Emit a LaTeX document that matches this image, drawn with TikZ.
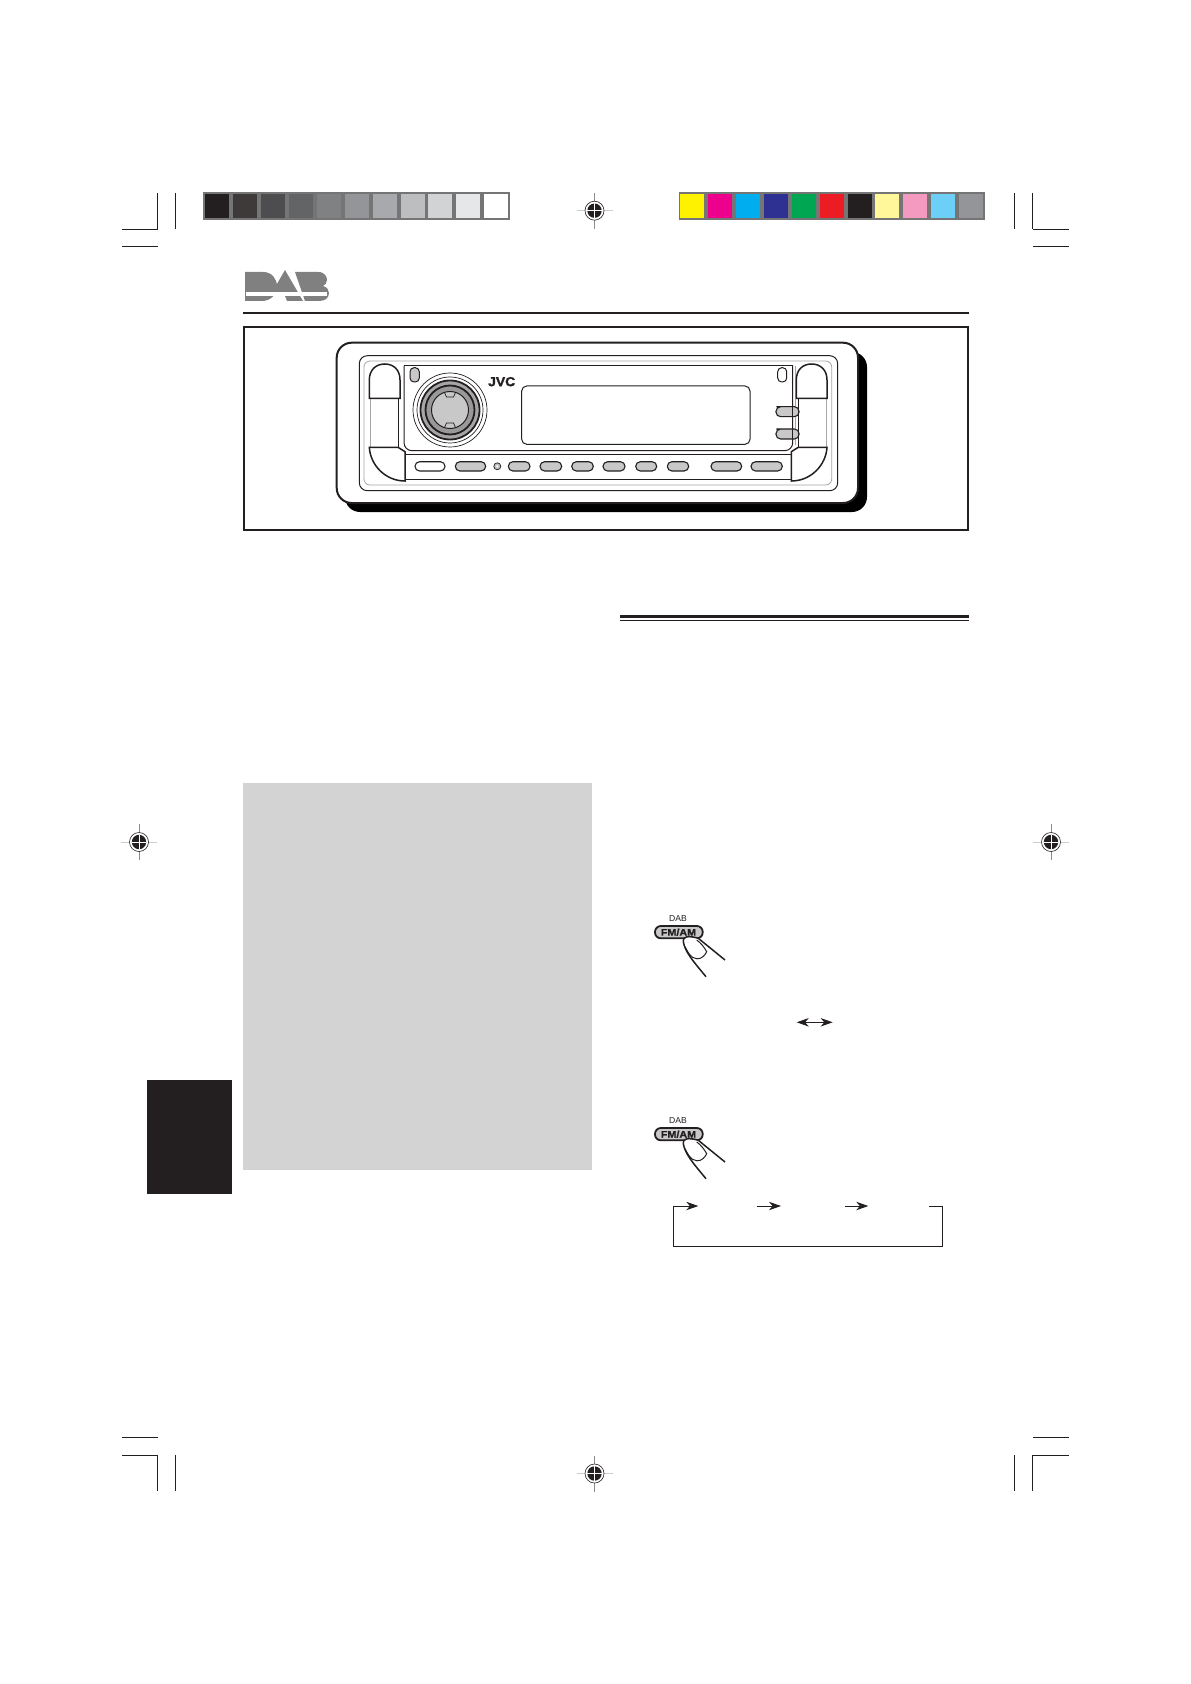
\documentclass[tikz,border=0pt]{standalone}
\usepackage{fontspec}
\setmainfont{Liberation Sans}
\usetikzlibrary{%
        arrows.meta
    }
\definecolor{ink}{HTML}{231F20}
\definecolor{slate}{HTML}{757575}
\definecolor{keygray}{HTML}{C8C8C8}
\definecolor{logogray}{HTML}{808080}
\definecolor{boxgray}{HTML}{D3D3D3}
\tikzset{%
    hair/.style={line width=0.5pt, draw=ink},
    heavy/.style={line width=0.75pt, draw=ink},
    thinline/.style={line width=0.35pt, draw=ink},
    softline/.style={line width=0.4pt, draw=gray!70},
    softkey/.style={line width=0.55pt, draw=ink, fill=keygray, rounded corners=2.3pt},
    bighead/.tip={Stealth[length=6pt, width=4.2pt, inset=1.8pt]},
    arrowline/.style={line width=0.5pt, draw=ink, -bighead},
    regmark/.pic={%
        code{%
            \draw[line width=0.35pt, gray!40] (-18, 0) -- (18, 0);
            \draw[line width=0.35pt, gray!90] (0, -18) -- (0, 18);
            \draw[line width=0.3pt, draw=ink, fill=white] (0, 0) circle[radius=9.5];
            \fill[ink] (0, 0) circle[radius=7.2];
            \draw[line width=0.35pt, white] (-7.2, 0) -- (7.2, 0);
            \draw[line width=0.35pt, white] (0, -7.2) -- (0, 7.2);
        };
    },
    endcap/.pic={%
        code{%
            \draw[softline] (1, 399) -- (1, 447);
            \draw[hair] (28.7, 399) -- (28.7, 447);
            \draw[heavy, fill=white] (0, 398.5) -- (0, 380)
                .. controls (0, 370) and (6.5, 364) .. (15.4, 364)
                .. controls (24.5, 364) and (30.7, 370) .. (30.7, 380)
                -- (30.7, 398.5) -- cycle;
            \draw[heavy, fill=white] (0, 447.3) -- (28.7, 447.3) -- (35.7, 451.7)
                -- (35.7, 481)
                .. controls (16, 481) and (1, 465) .. (0, 447.3) -- cycle;
        };
    },
    fmam/.pic={%
        code{%
            \node[font=\fontsize{4.3pt}{5pt}\selectfont, text=ink, inner sep=0] (#1-dab)
                at (-1, -13.5) {DAB};
            \draw[line width=0.9pt, draw=ink, fill=keygray, rounded corners=2.9pt]
                (-24, -6) rectangle (23.7, 6.3);
            \node[font=\fontsize{4.8pt}{6pt}\selectfont\bfseries\addfontfeature{FakeStretch=1.12, FakeBold=1.2},
                text=ink, inner sep=0] (#1-key) at (-0.5, 0.3) {FM/AM};
            \fill[white] (4.3, 9.7)
                .. controls (3, 5) and (9, 4) .. (19.3, 6.3)
                -- (46, 28) -- (27, 44.7) -- cycle;
            \draw[heavy] (19.3, 6.3) .. controls (9, 3) and (3, 5) .. (4.3, 9.7)
                .. controls (6, 20) and (14, 29) .. (27, 44.7);
            \draw[heavy] (19.3, 6.3) -- (46, 28);
            \draw[hair] (6, 14.7) .. controls (9, 20) and (11, 26) .. (18, 26.8)
                .. controls (23, 27) and (26, 23) .. (27.7, 19.7)
                .. controls (25, 15) and (22, 11) .. (17.7, 8);
        };
    }
}

\begin{document}
\begin{tikzpicture}[x=0.5pt, y=-0.5pt]

    \useasboundingbox (0, 0) rectangle (1190, 1684);

    %%%%%%%%%%%%
    % Colour bars
    \fill[slate] (203, 192) rectangle (510, 220);
    \foreach \x/\hex in {%
        205/231F20, 233/3E3A39, 261/4D4D4F, 289/636466, 317/808183, 344.5/939598,
        372.5/A7A9AC, 400.5/BCBEC0, 428/D1D3D4, 456/E6E7E8, 484/FFFFFF%
    }{%
        \definecolor{patch}{HTML}{\hex}
        \fill[patch] (\x, 194) rectangle ++(24, 24);
    };

    \fill[slate] (679, 192) rectangle (985, 220);
    \foreach \x/\hex in {%
        680/FFF200, 708/EC008C, 736/00AEEF, 764/2E3192, 792/00A651, 820/ED1C24,
        848/231F20, 875/FFF799, 903/F49AC1, 931/6DCFF6, 959/939598%
    }{%
        \definecolor{patch}{HTML}{\hex}
        \fill[patch] (\x, 194) rectangle ++(24, 24);
    };

    % Crop marks
    \foreach \xa/\xb/\xv/\xw in {122/158/157.7/175.5, 1033/1069/1032.5/1014}{%
        \draw[hair] (\xa, 229.5) -- (\xb, 229.5);
        \draw[hair] (\xa, 247) -- (\xb, 247);
        \draw[hair] (\xv, 193) -- (\xv, 229.5);
        \draw[hair] (\xw, 193) -- (\xw, 229.5);
        \draw[hair] (\xa, 1437) -- (\xb, 1437);
        \draw[hair] (\xa, 1455) -- (\xb, 1455);
        \draw[hair] (\xv, 1455) -- (\xv, 1491);
        \draw[hair] (\xw, 1455) -- (\xw, 1491);
    };

    % Registration marks
    \path (594.5, 210.7) pic {regmark};
    \path (139, 842) pic {regmark};
    \path (1051, 842) pic {regmark};
    \path (594.5, 1473.5) pic {regmark};

    %%%%%%%%%%%%
    % Logo
    \fill[logogray] (245, 272) -- (263, 272)
        .. controls (272, 272) and (277, 279) .. (277, 286.5)
        .. controls (277, 295) and (270, 301) .. (262, 301)
        -- (245, 301) -- cycle;
    \fill[logogray] (285, 270) -- (303, 301) -- (287, 301) -- (285, 296)
        -- (270, 296) -- cycle;
    \fill[logogray] (295, 272) -- (318, 272)
        .. controls (325, 272) and (327, 277) .. (327, 280)
        .. controls (327, 283) and (325, 285) .. (323, 286)
        .. controls (327, 287) and (329, 290) .. (329, 293)
        .. controls (329, 298) and (325, 301) .. (319, 301)
        -- (305, 301) -- cycle;
    \fill[white] (246, 292.3) rectangle (326.5, 296);

    \draw[line width=1pt, draw=ink] (243, 312.7) -- (969, 312.7);
    \draw[line width=1pt, draw=ink] (244, 327) rectangle (968, 530);

    %%%%%%%%%%%%
    % Car radio
    \fill[black, rounded corners=7.5pt] (345, 352) rectangle (867, 512);
    \draw[line width=1pt, draw=ink, fill=white, rounded corners=7.5pt]
        (336.7, 342.7) rectangle (858, 503);
    \draw[hair, rounded corners=4pt] (359.3, 355.7) rectangle (837.7, 490.7);
    \draw[softline, rounded corners=3pt] (364, 361) rectangle (831.7, 485);

    % Front panel
    \draw[hair, fill=white, rounded corners=4pt]
        (792.7, 366) -- (792.7, 450.7) -- (404, 450.7) -- (404, 366);
    \draw[hair] (404, 366) -- (792.7, 366);
    \draw[softline] (795, 366) -- (795, 445);
    \draw[hair, fill=white] (405, 454) rectangle (791.7, 479.3);
    \draw[hair, rounded corners=2.5pt] (521.7, 386) rectangle (750, 444.3);

    % Side keys
    \foreach \y in {411.7, 434}{%
        \draw[softkey] (799, \y - 5) -- (781, \y - 5) -- (776, \y - 5)
            -- (776, \y + 5) -- (799, \y + 5) -- cycle;
        \draw[thinline] (792.7, \y - 5) -- (792.7, \y + 5);
    };

    % End caps
    \path (369.3, 0) pic {endcap};
    \path (827, 0) pic[xscale=-1] {endcap};

    % Indicators
    \draw[hair, fill=keygray, rounded corners=2pt] (410, 367.7) rectangle (419.3, 382);
    \draw[hair, fill=white, rounded corners=2pt] (777.7, 367.7) rectangle (786.7, 382);

    % Dial
    \draw[thinline] (450, 410) circle[radius=37];
    \draw[thinline] (450, 410) circle[radius=33];
    \draw[line width=0.9pt, draw=ink, fill=gray!70] (450, 410) circle[radius=29.5];
    \draw[line width=0.9pt, draw=ink, fill=gray!80] (450, 410) circle[radius=24.5];
    \draw[hair, fill=keygray] (450, 410) circle[radius=18.5];
    \draw[thinline] (444.5, 392.5) -- (446.5, 397) -- (453.5, 397) -- (455.5, 392.5);
    \draw[thinline] (444.5, 427.5) -- (446.5, 423) -- (453.5, 423) -- (455.5, 427.5);
    \node[font=\fontsize{6.5pt}{8pt}\selectfont\bfseries\addfontfeature{FakeStretch=1.07, FakeBold=1.5},
        text=ink, inner sep=0] (jvc) at (501.7, 381.7) {JVC};

    % Lower keys
    \draw[softkey, fill=white] (415, 461.7) rectangle (445, 471);
    \foreach \xa/\xb in {%
        455.3/485.7, 508.3/530, 540/561.7, 571.7/593.3, 603/625, 635.7/656.7,
        667.3/688.7, 711/741.7, 751/782.3%
    }{%
        \draw[softkey] (\xa, 461.7) rectangle (\xb, 471);
    };
    \draw[thinline, fill=gray!50] (497.3, 466.3) circle[radius=3.5];
    \fill[white] (497.3, 466.3) circle[radius=1.2];

    %%%%%%%%%%%%
    % Text rule
    \draw[line width=1.6pt, draw=ink] (620, 616.8) -- (969, 616.8);
    \draw[line width=0.5pt, draw=ink] (620, 620.5) -- (969, 620.5);

    % Shaded blocks
    \fill[boxgray] (242.7, 783) rectangle (592, 1170);
    \fill[ink] (147, 1080) rectangle (232, 1194);

    %%%%%%%%%%%%
    % Key presses
    \path (679, 932) pic {fmam=upper};
    \path (679, 1134) pic {fmam=lower};

    % Band arrow
    \coordinate (band-l) at (796.7, 1022.3);
    \coordinate (band-r) at (832.7, 1022.3);
    \draw[line width=0.5pt, draw=ink, bighead-bighead] (band-l) -- (band-r);

    % Cycle
    \coordinate (nw) at (673.3, 1206);
    \coordinate (ne) at (942.7, 1206);
    \coordinate (se) at (942.7, 1246.3);
    \coordinate (sw) at (673.3, 1246.3);
    \coordinate (out) at (929, 1206);
    \coordinate (in) at (698.3, 1206);
    \draw[arrowline] (out) -- (ne) -- (se) -- (sw) -- (nw) -- (in);
    \foreach \i/\xa/\xb in {1/756.7/781, 2/845/868.3}{%
        \coordinate (step-\i-a) at (\xa, 1206);
        \coordinate (step-\i-b) at (\xb, 1206);
        \draw[arrowline] (step-\i-a) -- (step-\i-b);
    };

\end{tikzpicture}
\end{document}
